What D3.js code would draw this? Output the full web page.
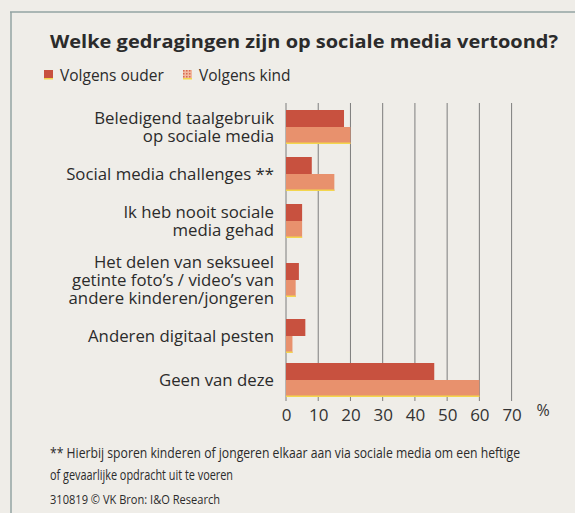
<!DOCTYPE html>
<html>
<head>
<meta charset="utf-8">
<script src="https://cdn.jsdelivr.net/npm/d3@7"></script>
<style>
  body { margin: 0; background: #efede8; }
  svg { display: block; }
</style>
</head>
<body>
<script>
// data (percentages)
var categories = ["Beledigend", "Challenges", "Nooit", "Seksueel", "Pesten", "Geen"];
var labelLines = [
  ["Beledigend taalgebruik", "op sociale media"],
  ["Social media challenges **"],
  ["Ik heb nooit sociale", "media gehad"],
  ["Het delen van seksueel", "getinte foto\u2019s / video\u2019s van", "andere kinderen/jongeren"],
  ["Anderen digitaal pesten"],
  ["Geen van deze"]
];
var ouder = [18, 8, 5, 4, 6, 46];
var kind = [20, 15, 5, 3, 2, 60];
var xTicks = [0, 10, 20, 30, 40, 50, 60, 70];
var seriesNames = ["Volgens ouder", "Volgens kind"];
var footLines = [
  "** Hierbij sporen kinderen of jongeren elkaar aan via sociale media om een heftige",
  "of gevaarlijke opdracht uit te voeren"
];
var sourceText = "310819 \u00a9 VK Bron: I&O Research";

var W = 575, H = 513;
var cOuder = "#c8513f", cKind = "#e8916d", cEdge = "#f3d64e";
var font = "'Open Sans', sans-serif";

var svg = d3.select("body").append("svg").attr("width", W).attr("height", H);

// paper frame
svg.append("line").attr("x1", 10).attr("x2", W).attr("y1", 12).attr("y2", 12)
  .attr("stroke", "#93a3a3").attr("stroke-width", 1.5);
svg.append("line").attr("x1", 11).attr("x2", 11).attr("y1", 12).attr("y2", H)
  .attr("stroke", "#93a3a3").attr("stroke-width", 1.5);

// title
svg.append("text").attr("x", 50).attr("y", 48)
  .attr("font-family", font).attr("font-weight", 700).attr("font-size", 17.5)
  .attr("fill", "#2b2b2b")
  .attr("textLength", 508).attr("lengthAdjust", "spacingAndGlyphs")
  .text("Welke gedragingen zijn op sociale media vertoond?");

// legend
var pat = svg.append("defs").append("pattern").attr("id", "dots")
  .attr("width", 3).attr("height", 3).attr("patternUnits", "userSpaceOnUse");
pat.append("rect").attr("width", 3).attr("height", 3).attr("fill", "#f1b9a0");
pat.append("rect").attr("width", 1.5).attr("height", 1.5).attr("fill", "#d9684f");

var legX = [44, 183];
seriesNames.forEach(function(n, i) {
  var g = svg.append("g").attr("transform", "translate(" + legX[i] + ",70)");
  g.append("rect").attr("width", 9).attr("height", 9)
    .attr("fill", i === 0 ? cOuder : "url(#dots)");
  g.append("rect").attr("y", 8).attr("width", 9).attr("height", 1.5).attr("fill", cEdge);
  g.append("text").attr("x", 16).attr("y", 10.5)
    .attr("font-family", font).attr("font-size", 15.5).attr("fill", "#2b2b2b")
    .text(n);
});

// scales
var x = d3.scaleLinear().domain([0, 70]).range([286, 511.6]);

// rows get taller when the label has more lines
var rowH = {1: 44, 2: 50, 3: 68};
var starts = [], acc = 0;
labelLines.forEach(function(l) { starts.push(acc); acc += rowH[l.length]; });
var yUnit = d3.scaleLinear().domain([0, acc]).range([102, 102 + acc]);
function yc(i) { return yUnit(starts[i] + rowH[labelLines[i].length] / 2); }

var barH = 17;

// grid
svg.append("g").selectAll("line").data(xTicks).join("line")
  .attr("x1", function(d) { return x(d); }).attr("x2", function(d) { return x(d); })
  .attr("y1", 103).attr("y2", 401)
  .attr("stroke", "#7d7d7d").attr("stroke-width", 1);

// bars
var rows = svg.append("g").selectAll("g").data(categories).join("g");
rows.append("rect")
  .attr("x", x(0)).attr("y", function(d, i) { return yc(i) - barH; })
  .attr("width", function(d, i) { return x(ouder[i]) - x(0); })
  .attr("height", barH).attr("fill", cOuder);
rows.append("rect")
  .attr("x", x(0)).attr("y", function(d, i) { return yc(i); })
  .attr("width", function(d, i) { return x(kind[i]) - x(0); })
  .attr("height", barH).attr("fill", cKind);
rows.append("rect")
  .attr("x", x(0)).attr("y", function(d, i) { return yc(i) + barH - 1.5; })
  .attr("width", function(d, i) { return x(kind[i]) - x(0); })
  .attr("height", 1.5).attr("fill", cEdge);

// category labels
rows.append("text")
  .attr("font-family", font).attr("font-size", 16.8).attr("fill", "#2b2b2b")
  .attr("text-anchor", "end")
  .each(function(d, i) {
    var t = d3.select(this), lines = labelLines[i], lh = 18;
    var y0 = yc(i) - (lines.length - 1) * lh / 2 + 6;
    lines.forEach(function(s, k) {
      t.append("tspan").attr("x", 274).attr("y", y0 + k * lh).text(s);
    });
  });

// axis
var axis = svg.append("g").attr("transform", "translate(0,401)")
  .call(d3.axisBottom(x).tickValues(xTicks).tickSize(0).tickPadding(8));
axis.select(".domain").remove();
axis.selectAll("text").attr("font-family", font).attr("font-size", 17).attr("fill", "#333");
svg.append("text").attr("x", 543).attr("y", 416)
  .attr("font-family", font).attr("font-size", 16).attr("fill", "#333")
  .attr("text-anchor", "middle").text("%");

// footnote
var footW = [470, 183];
footLines.forEach(function(s, i) {
  svg.append("text").attr("x", 50).attr("y", 458 + i * 22)
    .attr("font-family", "'Liberation Sans Narrow', 'Open Sans', sans-serif")
    .attr("font-size", 14.5).attr("fill", "#2b2b2b")
    .attr("textLength", footW[i]).attr("lengthAdjust", "spacingAndGlyphs")
    .text(s);
});
svg.append("text").attr("x", 50).attr("y", 504)
  .attr("font-family", font).attr("font-size", 12).attr("fill", "#2b2b2b")
  .attr("textLength", 170).attr("lengthAdjust", "spacingAndGlyphs")
  .text(sourceText);
</script>
</body>
</html>
